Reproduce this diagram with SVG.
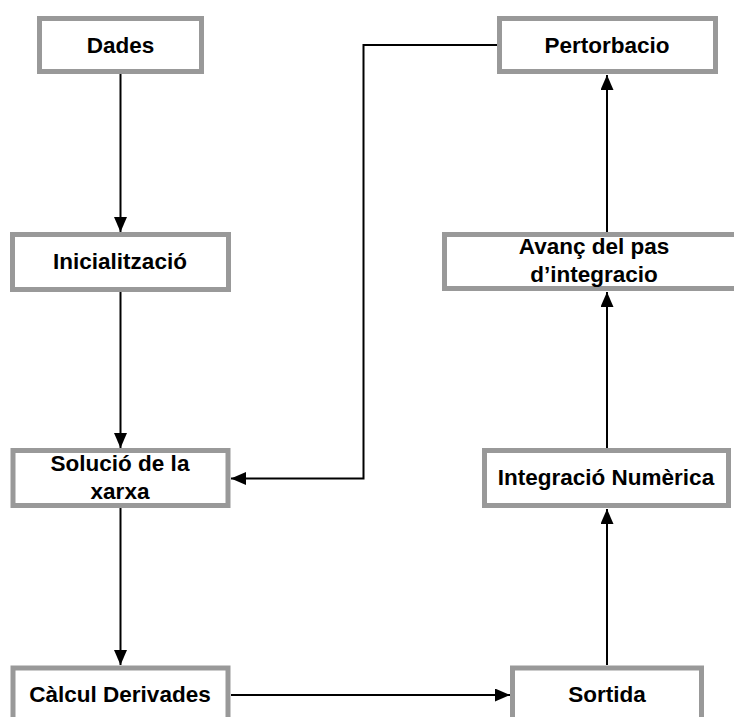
<svg xmlns="http://www.w3.org/2000/svg" width="734" height="717" viewBox="0 0 734 717">
<style>
.box{fill:#fff;stroke:#999;stroke-width:5}
.lbl{font-family:"Liberation Sans",Arial,sans-serif;font-weight:bold;font-size:22.5px;fill:#000;text-anchor:middle}
.con{fill:none;stroke:#000;stroke-width:2}
</style>
<defs>
<marker id="arr" markerUnits="userSpaceOnUse" markerWidth="16" markerHeight="14" refX="15" refY="6.5" orient="auto">
<path d="M0,0 L15,6.5 L0,13 Z" fill="#000"/>
</marker>
</defs>
<rect width="734" height="717" fill="#fff"/>
<g id="connectors">
<line class="con" x1="120.5" y1="74" x2="120.5" y2="232" marker-end="url(#arr)"/>
<line class="con" x1="120.5" y1="292" x2="120.5" y2="448" marker-end="url(#arr)"/>
<line class="con" x1="120.5" y1="508" x2="120.5" y2="665" marker-end="url(#arr)"/>
<line class="con" x1="231" y1="695" x2="510" y2="695" marker-end="url(#arr)"/>
<line class="con" x1="607" y1="665" x2="607" y2="509" marker-end="url(#arr)"/>
<line class="con" x1="607" y1="448" x2="607" y2="292" marker-end="url(#arr)"/>
<line class="con" x1="607" y1="232" x2="607" y2="75" marker-end="url(#arr)"/>
<polyline class="con" points="497,45 363.5,45 363.5,478.5 231,478.5" marker-end="url(#arr)"/>
</g>
<g id="dades">
<rect class="box" x="39.5" y="18.5" width="162" height="53"/>
<text class="lbl" x="120.5" y="52.5">Dades</text>
</g>
<g id="pertorbacio">
<rect class="box" x="499.5" y="18.5" width="216" height="53"/>
<text class="lbl" x="607" y="52.5">Pertorbacio</text>
</g>
<g id="inicialitzacio">
<rect class="box" x="12.5" y="234.5" width="216" height="55"/>
<text class="lbl" x="120" y="268.5">Inicialització</text>
</g>
<g id="avanc">
<rect class="box" x="444.5" y="234.5" width="325" height="54"/>
<text class="lbl" x="594" y="253.5">Avanç del pas</text>
<text class="lbl" x="594" y="281.5">d’integracio</text>
</g>
<g id="solucio">
<rect class="box" x="13" y="450.5" width="215" height="55"/>
<text class="lbl" x="120" y="470.5">Solució de la</text>
<text class="lbl" x="120" y="498.5">xarxa</text>
</g>
<g id="integracio">
<rect class="box" x="484.5" y="450.5" width="244" height="55"/>
<text class="lbl" x="606" y="485">Integració Numèrica</text>
</g>
<g id="calcul">
<rect class="box" x="13" y="668" width="215" height="80"/>
<text class="lbl" x="120" y="701.5">Càlcul Derivades</text>
</g>
<g id="sortida">
<rect class="box" x="512.5" y="668" width="189" height="80"/>
<text class="lbl" x="607" y="701.5">Sortida</text>
</g>
</svg>
